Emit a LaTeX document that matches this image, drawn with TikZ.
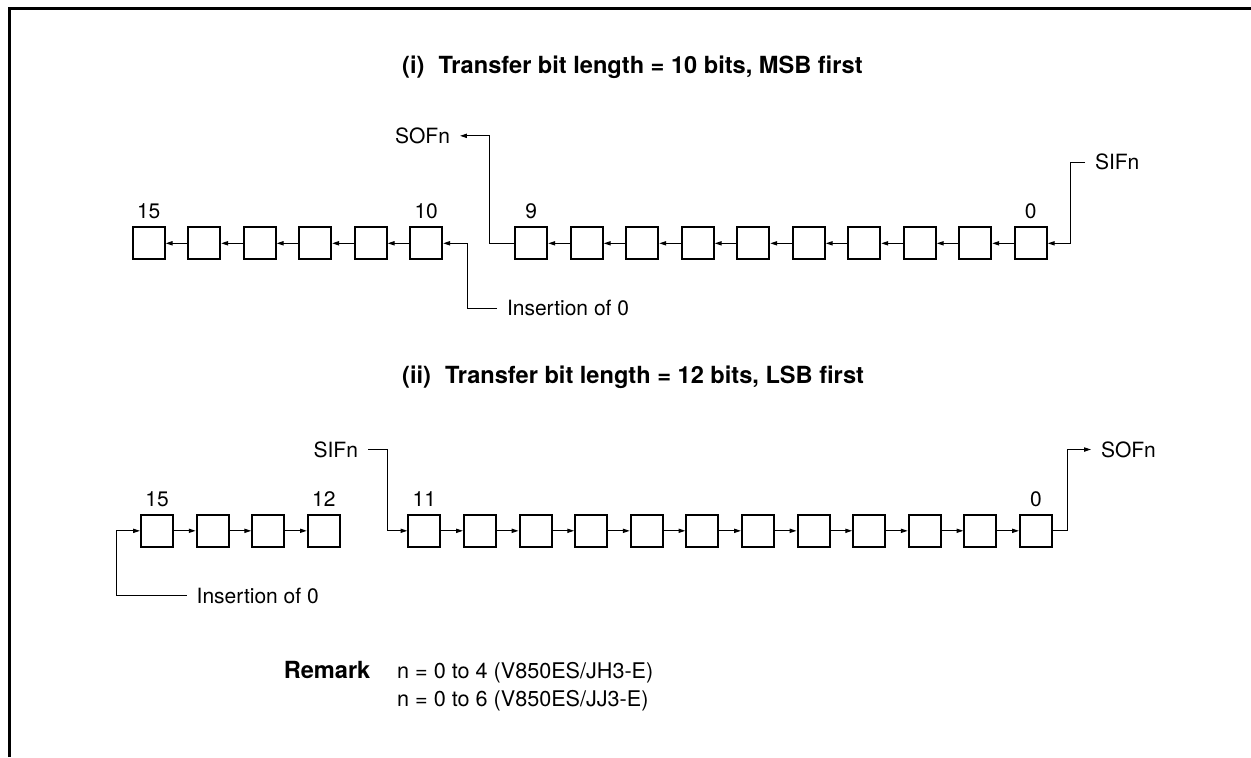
\documentclass[tikz,border=0pt]{standalone}
\usepackage{fontspec}
\setmainfont{TeX Gyre Heros}
\usetikzlibrary{arrows.meta}

\begin{document}
\begin{tikzpicture}[x=0.5pt, y=-0.5pt, line width=0.5pt,
  >={Triangle[length=3.4pt,width=2.1pt]},
  bitbox/.style={draw, line width=1pt, minimum size=16pt, inner sep=0pt},
  num/.style={font=\fontsize{10.5}{12}\selectfont},
  sig/.style={inner sep=0pt, outer xsep=5pt, font=\fontsize{10.5}{12}\selectfont},
  head/.style={anchor=base west, inner sep=0pt, font=\fontsize{11.8}{14}\selectfont\bfseries},
  remline/.style={anchor=base west, inner sep=0pt, font=\fontsize{10.8}{12}\selectfont}]
  \useasboundingbox (0,0) rectangle (1251,757);
  \draw[line width=1.35pt] (9.3,757) -- (9.3,8.7) -- (1251,8.7);

  % (i) 10 bits, MSB first
  \node[head] (headA) at (401.7,73.3) {(i)\hspace{0.6em}Transfer bit length = 10 bits, MSB first};
  \foreach \k in {10,...,15}
    \node[bitbox] (a\k) at ({148.7+(15-\k)*55.5},243.3) {};
  \foreach \k in {0,...,9}
    \node[bitbox] (a\k) at ({531.3+(9-\k)*55.5},243.3) {};
  \foreach \k in {15,10,9,0}
    \node[num, above] at (a\k.north) {\k};
  \foreach \k in {11,...,15} {
    \pgfmathtruncatemacro\j{\k-1}
    \draw[->] (a\j) -- (a\k);
  }
  \foreach \k in {1,...,9} {
    \pgfmathtruncatemacro\j{\k-1}
    \draw[->] (a\j) -- (a\k);
  }
  \node[sig, anchor=east] (sofA) at (460,135.8) {SOFn};
  \node[sig, anchor=west] (sifA) at (1085,162) {SIFn};
  \node[sig, anchor=west] (insA) at (497,308.3) {Insertion of 0};
  \draw[->] (a9.west) -- ++(-25,0) |- (sofA.east);
  \draw[->] (sifA.west) -- ++(-15,0) |- (a0.east);
  \draw[->] (insA.west) -- ++(-30,0) |- (a10.east);

  % (ii) 12 bits, LSB first
  \node[head] (headB) at (401.7,383.3) {(ii)\hspace{0.6em}Transfer bit length = 12 bits, LSB first};
  \foreach \k in {12,...,15}
    \node[bitbox] (b\k) at ({157+(15-\k)*55.6},530.8) {};
  \foreach \k in {0,...,11}
    \node[bitbox] (b\k) at ({424.3+(11-\k)*55.6},530.8) {};
  \foreach \k in {15,12,11,0}
    \node[num, above] at (b\k.north) {\k};
  \foreach \k in {13,...,15} {
    \pgfmathtruncatemacro\j{\k-1}
    \draw[->] (b\k) -- (b\j);
  }
  \foreach \k in {1,...,11} {
    \pgfmathtruncatemacro\j{\k-1}
    \draw[->] (b\k) -- (b\j);
  }
  \node[sig, anchor=east] (sifB) at (368,449.5) {SIFn};
  \node[sig, anchor=west] (sofB) at (1091,449.5) {SOFn};
  \node[sig, anchor=west] (insB) at (186.7,595.8) {Insertion of 0};
  \draw[->] (sifB.east) -- ++(19.3,0) |- (b11.west);
  \draw[->] (b0.east) -- ++(15,0) |- (sofB.west);
  \draw[->] (insB.west) -- ++(-70.7,0) |- (b15.west);

  % remark
  \node[head] (rem) at (283.3,678) {Remark};
  \node[remline] (remA) at (396.7,678) {n = 0 to 4 (V850ES/JH3-E)};
  \node[remline] (remB) at (396.7,706.7) {n = 0 to 6 (V850ES/JJ3-E)};
\end{tikzpicture}
\end{document}
